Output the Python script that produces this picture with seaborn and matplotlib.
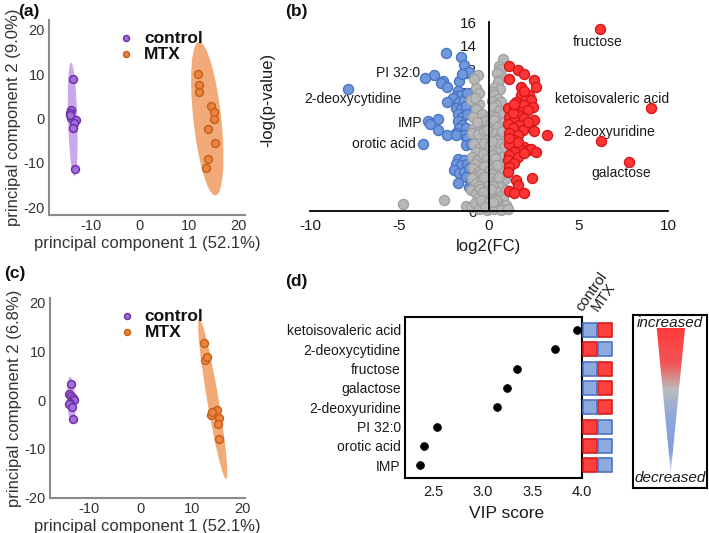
import numpy as np
import pandas as pd
import matplotlib
matplotlib.use("Agg")
import matplotlib.pyplot as plt
import seaborn as sns
from matplotlib.patches import Ellipse, Polygon
from matplotlib.colors import LinearSegmentedColormap

# ---------------- data ----------------
# PCA (a)
a_ctrl_pc1 = [-13.5, -13.9, -14.2, -13.9, -13.0, -13.4, -13.65, -13.2, -14.1]
a_ctrl_pc2 = [8.9, 1.9, 1.2, 0.05, -0.3, -1.1, -2.1, -11.4, 0.7]
a_mtx_pc1 = [11.8, 12.0, 12.0, 14.5, 15.1, 15.0, 13.9, 15.2, 13.7, 13.3]
a_mtx_pc2 = [10.0, 7.6, 6.0, 2.9, 1.4, -0.2, -2.4, -5.5, -9.2, -11.2]
# PCA (c)
c_ctrl_pc1 = [-13.5, -14.0, -13.6, -13.3, -13.1, -13.8, -14.0, -13.4, -13.2]
c_ctrl_pc2 = [3.3, 1.2, 0.9, 0.5, 0.1, -0.6, -0.8, -1.5, -3.9]
c_mtx_pc1 = [12.35, 12.5, 13.0, 13.8, 14.4, 15.0, 15.4, 15.1, 15.4, 14.0]
c_mtx_pc2 = [11.7, 8.3, 8.8, -3.0, -2.4, -2.0, -3.6, -4.9, -7.9, -2.5]

# Volcano (b)
down_fc = [-2.40, -1.55, -1.42, -3.05, -3.6, -2.54, -2.69, -2.32, -1.67, -1.30, -1.12, -1.49,
           -1.75, -1.84, -1.56, -2.03, -2.32, -1.67, -1.40, -1.21, -1.84, -1.56, -1.30, -1.75,
           -1.49, -1.21, -2.87, -3.42, -3.27, -1.75, -1.49, -1.67, -1.30, -2.82, -1.84, -2.32,
           -1.40, -1.82, -1.21, -3.67, -1.30, -1.02, -1.75, -1.40, -1.84, -1.56, -1.21, -1.94,
           -1.67, -1.40, -1.12, -1.30, -1.75, -1.12, -1.02, -7.86]
down_p = [13.4, 13.0, 12.4, 11.5, 11.3, 11.0, 10.8, 10.5, 11.0, 11.7, 11.8, 11.6,
          10.2, 9.7, 9.8, 9.6, 9.2, 9.2, 9.4, 9.97, 8.7, 8.6, 8.9, 8.2,
          8.0, 8.2, 7.8, 7.65, 7.38, 7.6, 7.3, 7.0, 7.0, 6.9, 6.6, 6.4,
          6.4, 6.4, 6.2, 5.68, 5.6, 5.7, 4.4, 4.3, 4.0, 3.9, 4.0, 3.5,
          3.2, 3.3, 3.6, 2.9, 2.4, 2.0, 2.5, 10.3]

up_fc = [1.14, 1.60, 1.97, 1.14, 2.53, 2.63, 1.78, 2.25, 1.78, 2.06, 2.34, 1.51, 1.97, 2.44,
         1.05, 1.41, 1.78, 2.16, 1.60, 1.14, 1.97, 2.53, 1.41, 1.05, 1.69, 2.16, 1.33, 1.88,
         1.14, 1.60, 2.53, 3.25, 1.41, 1.14, 1.97, 1.69, 2.16, 2.34, 2.63, 1.41, 1.14, 1.60,
         1.97, 1.05, 1.41, 1.14, 1.05, 2.38, 1.51, 1.60, 1.14, 1.41, 1.97, 1.33, 2.16, 1.41,
         1.97, 1.14, 1.60, 6.2, 9.05, 6.26, 7.84]
up_p = [12.3, 11.9, 11.6, 11.2, 11.1, 10.5, 10.5, 9.8, 9.8, 9.55, 9.4, 9.25, 8.98, 8.84,
        8.7, 8.56, 8.42, 8.56, 8.14, 8.0, 7.85, 7.71, 7.71, 7.37, 7.29, 7.15, 7.0, 6.88,
        6.64, 6.45, 6.74, 6.45, 6.02, 5.68, 5.45, 5.31, 5.17, 5.22, 5.03, 5.03, 4.74, 4.6,
        4.88, 4.32, 4.04, 3.76, 3.33, 2.82, 2.63, 2.2, 1.72, 1.50, 1.50, 8.28, 7.57, 9.1,
        10.2, 6.16, 5.87, 15.4, 8.75, 5.93, 4.12]

ns_fc = [0.80, 0.58, 0.70, -0.63, 0.67, 0.45, 0.55, -0.85, 0.48, 0.35, 0.60, -0.75, 0.25, -0.55,
         -1.02, -0.54, 0.30, 0.50, 0.70, 0.15, -0.80, 0.40, -0.70, 0.20, 0.55, 0.80, -0.40, 0.10,
         0.35, -0.90, -0.82, -0.50, -0.20, 0.05, 0.30, 0.60, 0.85, -0.65, 0.45, -0.95, -0.60, -0.30,
         0.00, 0.25, 0.55, 0.75, -0.10, 0.40, -0.85, -0.55, -0.25, 0.05, 0.30, 0.60, 0.85, -0.70,
         0.15, 0.45, -0.95, -0.65, -0.35, -0.10, 0.20, 0.50, 0.75, -0.80, 0.05, 0.35, 0.90, -0.90,
         -0.60, -0.30, 0.00, 0.30, 0.60, 0.85, -0.75, 0.15, 0.45, -0.45, -0.95, -0.70, -0.40, -0.15,
         0.10, 0.40, 0.65, 0.90, -0.55, 0.25, -0.25, 0.55, -1.00, -0.75, -0.50, -0.25, 0.00, 0.20,
         0.45, 0.70, 0.95, -0.60, 0.10, 0.35, -0.35, 0.80, -1.30, -1.00, -0.80, -0.55, -0.30, -0.10,
         0.10, 0.30, 0.55, 0.80, -0.45, 0.00, 0.40, 0.95, -0.20, 0.20, 0.65, 1.05, -4.82, -2.53]
ns_p = [12.9, 12.3, 12.0, 11.5, 11.4, 11.7, 11.1, 11.2, 10.9, 10.5, 10.3, 10.4, 10.1, 10.0,
        9.4, 9.1, 9.8, 9.5, 9.2, 9.3, 9.6, 9.0, 8.6, 8.8, 8.5, 8.3, 8.2, 8.1,
        8.0, 8.0, 7.0, 7.2, 7.6, 7.4, 7.7, 7.3, 7.5, 7.5, 7.1, 6.6, 6.5, 6.8,
        6.3, 6.6, 6.2, 6.8, 6.9, 6.0, 5.7, 5.3, 5.8, 5.5, 5.2, 5.7, 5.4, 5.0,
        5.9, 5.0, 4.6, 4.3, 4.8, 4.4, 4.7, 4.2, 4.6, 4.0, 4.0, 4.5, 4.1, 3.6,
        3.3, 3.8, 3.4, 3.7, 3.2, 3.5, 3.0, 3.1, 3.9, 3.1, 2.8, 2.4, 2.7, 2.3,
        2.8, 2.5, 2.2, 2.7, 2.1, 2.1, 2.9, 2.9, 1.8, 1.5, 1.9, 1.3, 1.7, 1.2,
        1.6, 1.3, 1.8, 1.1, 1.9, 1.0, 1.6, 1.0, 0.4, 0.3, 0.7, 0.2, 0.6, 0.1,
        0.5, 0.2, 0.7, 0.3, 0.9, 0.8, 0.9, 0.5, 0.3, 0.8, 0.1, 0.15, 0.6, 0.93]

volcano_labels = ["fructose", "ketoisovaleric acid", "2-deoxyuridine", "galactose",
                  "PI 32:0", "2-deoxycytidine", "IMP", "orotic acid"]
volcano_label_pos = [(6.1, 14.35), (6.9, 9.5), (6.69, 6.67), (7.37, 3.19),
                     (-5.1, 11.67), (-7.61, 9.46), (-4.41, 7.43), (-5.85, 5.68)]

# VIP (d)
vip_metabolites = ["ketoisovaleric acid", "2-deoxycytidine", "fructose", "galactose",
                   "2-deoxyuridine", "PI 32:0", "orotic acid", "IMP"]
vip_scores = [3.95, 3.73, 3.34, 3.24, 3.14, 2.53, 2.40, 2.36]
control_dir = ["down", "up", "down", "down", "down", "up", "up", "up"]
mtx_dir = ["up", "down", "up", "up", "up", "down", "down", "down"]

# ---------------- style ----------------
sns.set_theme(style="white")
plt.rcParams['font.family'] = ['Liberation Sans', 'DejaVu Sans']
plt.rcParams['axes.unicode_minus'] = False
TXT = '#1a1a1a'

CTRL_FILL, CTRL_EDGE, CTRL_ELL = '#a070d8', '#7030a8', '#c9a2ea'
MTX_FILL, MTX_EDGE, MTX_ELL = '#ea8440', '#c8621a', '#f2a672'

fig = plt.figure(figsize=(7.09, 5.33), dpi=100)


def conf_ellipse(ax, x, y, color, n_std=2.45):
    x = np.asarray(x); y = np.asarray(y)
    cov = np.cov(x, y)
    vals, vecs = np.linalg.eigh(cov)
    order = vals.argsort()[::-1]
    vals, vecs = vals[order], vecs[:, order]
    angle = np.degrees(np.arctan2(vecs[1, 0], vecs[0, 0]))
    w, h = 2 * n_std * np.sqrt(vals)
    e = Ellipse((x.mean(), y.mean()), w, h, angle=angle, facecolor=color,
                edgecolor='none', alpha=0.95, zorder=0)
    ax.add_patch(e)


def pca_panel(rect, c1, c2, m1, m2, xlim, ylim, ylabel):
    ax = fig.add_axes(rect)
    conf_ellipse(ax, c1, c2, CTRL_ELL)
    conf_ellipse(ax, m1, m2, MTX_ELL)
    dfc = pd.DataFrame({'pc1': c1, 'pc2': c2, 'group': 'control'})
    dfm = pd.DataFrame({'pc1': m1, 'pc2': m2, 'group': 'MTX'})
    sns.scatterplot(data=dfc, x='pc1', y='pc2', ax=ax, color=CTRL_FILL, edgecolor=CTRL_EDGE,
                    linewidth=1.1, s=32, label='control', zorder=3)
    sns.scatterplot(data=dfm, x='pc1', y='pc2', ax=ax, color=MTX_FILL, edgecolor=MTX_EDGE,
                    linewidth=1.1, s=32, label='MTX', zorder=3)
    ax.set_xlim(*xlim); ax.set_ylim(*ylim)
    ax.set_xticks([-10, 0, 10, 20]); ax.set_yticks([-20, -10, 0, 10, 20])
    for s in ['top', 'right']:
        ax.spines[s].set_visible(False)
    for s in ['left', 'bottom']:
        ax.spines[s].set_color('#8a8a8a'); ax.spines[s].set_linewidth(1.5)
    ax.tick_params(length=0, labelsize=10.5, colors='#333333', pad=3)
    ax.set_xlabel('principal component 1 (52.1%)', fontsize=12, color='#333333', labelpad=2)
    ax.set_ylabel(ylabel, fontsize=12, color='#333333', labelpad=2)
    leg = ax.legend(loc='upper left', bbox_to_anchor=(0.25, 1.0), frameon=False,
                    handletextpad=0.05, labelspacing=0.05, borderpad=0.1, markerscale=0.75,
                    prop={'weight': 'bold', 'size': 12.5})
    for t in leg.get_texts():
        t.set_color('#111111')
    ax.set_facecolor('none')
    return ax


pca_panel([0.0691, 0.5966, 0.2764, 0.3659], a_ctrl_pc1, a_ctrl_pc2, a_mtx_pc1, a_mtx_pc2,
          (-18.46, 21.3), (-21.8, 22.2), 'principal component 2 (9.0%)')
pca_panel([0.0705, 0.0651, 0.2750, 0.3758], c_ctrl_pc1, c_ctrl_pc2, c_mtx_pc1, c_mtx_pc2,
          (-17.7, 20.4), (-20.2, 21.0), 'principal component 2 (6.8%)')

# ---------------- volcano (b) ----------------
axb = fig.add_axes([0.4372, 0.6041, 0.5049, 0.3546])
vdf = pd.concat([
    pd.DataFrame({'fc': down_fc, 'p': down_p, 'grp': 'down'}),
    pd.DataFrame({'fc': ns_fc, 'p': ns_p, 'grp': 'ns'}),
    pd.DataFrame({'fc': up_fc, 'p': up_p, 'grp': 'up'}),
])
styles = {'down': ('#7098dc', '#4a74c4'), 'ns': ('#b8b8b8', '#a0a0a0'), 'up': ('#ff3434', '#d41818')}
for g in ['down', 'ns', 'up']:
    sub = vdf[vdf.grp == g]
    fc_, ec_ = styles[g]
    sns.scatterplot(data=sub, x='fc', y='p', ax=axb, color=fc_, edgecolor=ec_, linewidth=1.0,
                    s=52, legend=False, clip_on=False, zorder=1)
axb.set_xlim(-10, 10); axb.set_ylim(0, 16)
axb.set_xticks([-10, -5, 0, 5, 10]); axb.set_yticks(range(0, 17, 2))
axb.spines['top'].set_visible(False); axb.spines['right'].set_visible(False)
axb.spines['left'].set_position(('data', 0))
for s in ['left', 'bottom']:
    axb.spines[s].set_color('black'); axb.spines[s].set_linewidth(1.3)
axb.tick_params(length=0, labelsize=11, colors=TXT)
axb.tick_params(axis='y', pad=9)
axb.tick_params(axis='x', pad=6)
axb.set_xlabel('log2(FC)', fontsize=12, color=TXT, labelpad=4)
axb.set_ylabel('-log(p-value)', fontsize=12, color=TXT)
axb.yaxis.set_label_coords(-0.098, 0.59)
axb.set_facecolor('none')
for lab, (lx, ly) in zip(volcano_labels, volcano_label_pos):
    axb.text(lx, ly, lab, ha='center', va='center', fontsize=10, color=TXT)

# ---------------- VIP (d) ----------------
axd = fig.add_axes([0.5712, 0.1026, 0.2492, 0.3032])
ddf = pd.DataFrame({'metabolite': vip_metabolites, 'vip': vip_scores})
sns.scatterplot(data=ddf, x='vip', y='metabolite', ax=axd, color='black', s=32,
                edgecolor='black', linewidth=0.5, legend=False)
axd.set_xlim(2.21, 4.0)
axd.set_ylim(len(vip_metabolites) - 1 + 0.68, -0.68)
axd.set_xticks([2.5, 3.0, 3.5, 4.0])
for s in axd.spines.values():
    s.set_color('black'); s.set_linewidth(1.5); s.set_visible(True)
axd.tick_params(length=0, colors=TXT)
axd.tick_params(axis='y', labelsize=10, pad=3)
axd.tick_params(axis='x', labelsize=10.5, pad=5)
axd.set_xlabel('VIP score', fontsize=12.5, color=TXT, labelpad=2)
axd.xaxis.set_label_coords(0.575, -0.17)
axd.set_ylabel('')

# heat squares
axh = fig.add_axes([582 / 709, 0.1026, 31 / 709, 0.3032])
hrows = []
for i, m in enumerate(vip_metabolites):
    hrows.append({'metabolite': m, 'col': 0, 'dir': control_dir[i]})
    hrows.append({'metabolite': m, 'col': 1, 'dir': mtx_dir[i]})
hdf = pd.DataFrame(hrows)
for d, (fc_, ec_) in {'up': ('#ff4040', '#d81c1c'), 'down': ('#8eaade', '#4a74c4')}.items():
    sub = hdf[hdf.dir == d]
    sns.scatterplot(data=sub, x='col', y='metabolite', ax=axh, marker='s', s=88,
                    color=fc_, edgecolor=ec_, linewidth=1.2, legend=False, clip_on=False)
axh.set_xlim(-0.5, 1.5)
axh.set_ylim(len(vip_metabolites) - 1 + 0.68, -0.68)
axh.axis('off')
for xi, lab in enumerate(['control', 'MTX']):
    axh.text(xi - 0.3, -0.82, lab, rotation=55, rotation_mode='anchor', ha='left', va='bottom',
             fontsize=10.5, color=TXT)

# gradient legend
axl = fig.add_axes([632.7 / 709, 0.085, 74 / 709, 0.324])
axl.set_xlim(0, 1); axl.set_ylim(0, 1)
cmap = LinearSegmentedColormap.from_list('grad', [
    (0.0, '#ff3a3a'), (0.25, '#f25555'), (0.42, '#bcbcbc'), (0.6, '#90a8dc'),
    (0.85, '#7f9fdc'), (1.0, '#dfe7f7')])
grad = np.linspace(0, 1, 256).reshape(-1, 1)
tri = Polygon([(0.324, 0.925), (0.707, 0.925), (0.514, 0.083)], closed=True,
              transform=axl.transData, facecolor='none', edgecolor='none')
axl.add_patch(tri)
im = axl.imshow(grad, cmap=cmap, aspect='auto', extent=(0.3, 0.73, 0.08, 0.93),
                origin='upper', interpolation='bilinear')
im.set_clip_path(tri)
axl.set_xticks([]); axl.set_yticks([])
for s in axl.spines.values():
    s.set_color('black'); s.set_linewidth(1.5); s.set_visible(True)
axl.text(0.5, 0.955, 'increased', ha='center', va='center', style='italic', fontsize=11, color=TXT)
axl.text(0.5, 0.055, 'decreased', ha='center', va='center', style='italic', fontsize=11, color=TXT)

# panel labels
for lab, x, y in [('(a)', 18, 4), ('(b)', 285, 4), ('(c)', 4, 266), ('(d)', 285, 274)]:
    fig.text(x / 709, 1 - y / 533, lab, ha='left', va='top', fontsize=12.5,
             fontweight='bold', color='#111111')

fig.savefig('out.png', dpi=100)
